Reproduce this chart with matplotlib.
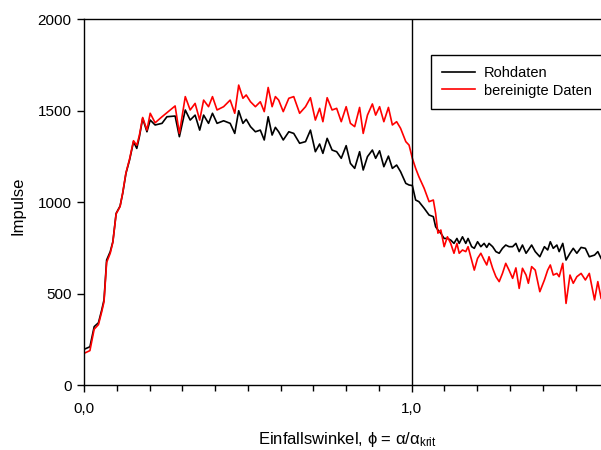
import matplotlib
matplotlib.use("Agg")
import matplotlib.pyplot as plt
from matplotlib.ticker import MultipleLocator, FixedLocator

plt.rcParams['font.family'] = ['Liberation Sans', 'DejaVu Sans']
plt.rcParams['mathtext.fontset'] = 'custom'
plt.rcParams['mathtext.rm'] = 'Liberation Sans'
plt.rcParams['mathtext.it'] = 'Liberation Sans:italic'

# angle of incidence relative to the critical angle
phi = [0.000, 0.018, 0.031, 0.044, 0.054, 0.061, 0.069, 0.080, 0.088, 0.098,
       0.110, 0.118, 0.128, 0.139, 0.151, 0.161, 0.169, 0.179, 0.192, 0.202,
       0.217, 0.238, 0.253, 0.278, 0.291, 0.309, 0.324, 0.339, 0.353, 0.365,
       0.380, 0.392, 0.406, 0.426, 0.446, 0.460, 0.472, 0.485, 0.495, 0.508,
       0.523, 0.538, 0.550, 0.562, 0.574, 0.584, 0.594, 0.608, 0.625, 0.640,
       0.658, 0.676, 0.691, 0.706, 0.719, 0.729, 0.742, 0.757, 0.771, 0.785,
       0.800, 0.813, 0.826, 0.841, 0.852, 0.865, 0.880, 0.890, 0.902, 0.915,
       0.929, 0.941, 0.954, 0.966, 0.982, 0.992, 1.002, 1.012, 1.022, 1.038,
       1.053, 1.066, 1.073, 1.080, 1.089, 1.099, 1.109, 1.119, 1.129, 1.138,
       1.145, 1.155, 1.165, 1.172, 1.183, 1.191, 1.201, 1.211, 1.221, 1.229,
       1.236, 1.247, 1.257, 1.267, 1.277, 1.287, 1.297, 1.308, 1.318, 1.328,
       1.338, 1.349, 1.356, 1.366, 1.377, 1.391, 1.405, 1.415, 1.423, 1.432,
       1.443, 1.450, 1.461, 1.471, 1.483, 1.493, 1.504, 1.517, 1.530, 1.542,
       1.558, 1.568, 1.578]

rohdaten = [195, 209, 319, 340, 410, 465, 683, 729, 783, 938,
            978, 1047, 1157, 1230, 1330, 1293, 1357, 1457, 1384, 1448,
            1421, 1430, 1466, 1470, 1357, 1503, 1448, 1475, 1393, 1475,
            1430, 1485, 1430, 1444, 1430, 1375, 1499, 1430, 1452, 1412,
            1384, 1393, 1339, 1466, 1366, 1408, 1384, 1339, 1384, 1375,
            1321, 1330, 1393, 1275, 1317, 1266, 1348, 1284, 1275, 1239,
            1308, 1211, 1184, 1275, 1175, 1248, 1284, 1239, 1280, 1193,
            1251, 1184, 1202, 1166, 1102, 1093, 1090, 1011, 1002, 966,
            929, 920, 865, 847, 829, 801, 801, 792, 774, 801,
            774, 810, 774, 801, 756, 747, 783, 756, 774, 752,
            774, 756, 729, 720, 747, 765, 756, 756, 774, 729,
            765, 720, 738, 765, 729, 701, 756, 738, 783, 747,
            765, 729, 774, 683, 720, 747, 720, 752, 747, 701,
            710, 729, 692]

bereinigt = [173, 188, 305, 330, 400, 455, 670, 720, 780, 935,
             975, 1050, 1160, 1235, 1335, 1310, 1365, 1462, 1393, 1485,
             1433, 1466, 1488, 1525, 1375, 1576, 1503, 1539, 1448, 1557,
             1521, 1576, 1503, 1521, 1557, 1485, 1639, 1567, 1585, 1548,
             1521, 1548, 1494, 1626, 1521, 1576, 1557, 1494, 1567, 1576,
             1485, 1521, 1570, 1448, 1512, 1439, 1570, 1503, 1512, 1439,
             1521, 1430, 1412, 1517, 1375, 1475, 1536, 1475, 1521, 1439,
             1517, 1421, 1439, 1403, 1330, 1311, 1239, 1184, 1138, 1075,
             1002, 1011, 938, 830, 847, 756, 810, 774, 720, 774,
             720, 738, 729, 756, 683, 628, 692, 720, 683, 656,
             701, 638, 592, 565, 610, 665, 628, 583, 640, 528,
             638, 601, 556, 647, 628, 510, 574, 628, 656, 601,
             610, 592, 665, 446, 601, 556, 592, 610, 574, 610,
             465, 565, 474]

fig = plt.figure(figsize=(6.01, 4.5), dpi=100)
ax = fig.add_axes([0.1398, 0.1444, 0.8620, 0.8133])

ax.plot(phi, rohdaten, color='black', lw=1.2, label='Rohdaten')
ax.plot(phi, bereinigt, color='red', lw=1.2, label='bereinigte Daten')
ax.axvline(1.0, color='black', lw=1.0)

ax.set_xlim(0, 1.581)
ax.set_ylim(0, 2000)
ax.spines['right'].set_visible(False)
for s in ('left', 'bottom', 'top'):
    ax.spines[s].set_linewidth(1.0)

ax.xaxis.set_major_locator(FixedLocator([0.0, 1.0]))
ax.xaxis.set_minor_locator(MultipleLocator(0.1))
ax.set_xticklabels(['0,0', '1,0'])
ax.yaxis.set_major_locator(MultipleLocator(500))
ax.tick_params(axis='both', which='both', direction='out', length=5,
               width=1.0, labelsize=11)
ax.tick_params(axis='x', pad=7)
ax.tick_params(axis='y', pad=4)
ax.tick_params(axis='x', which='minor', length=4)

# axis titles placed in figure coordinates
fig.text(347 / 601, 1 - 444 / 450, r'Einfallswinkel, ϕ = α/α$_{\mathrm{krit}}$',
         fontsize=12, ha='center', va='baseline')
fig.text(18 / 601, 1 - 206 / 450, 'Impulse', fontsize=12, rotation=90,
         ha='center', va='center')

leg = ax.legend(loc='upper left', bbox_to_anchor=(431 / 601, 1 - 55 / 450),
                bbox_transform=fig.transFigure, borderaxespad=0,
                fancybox=False, edgecolor='black', fontsize=10.5,
                handlelength=2.3, handletextpad=0.55, borderpad=0.75,
                labelspacing=0.25, framealpha=1)
leg.get_frame().set_linewidth(1.0)

fig.savefig('out.png', dpi=100)
